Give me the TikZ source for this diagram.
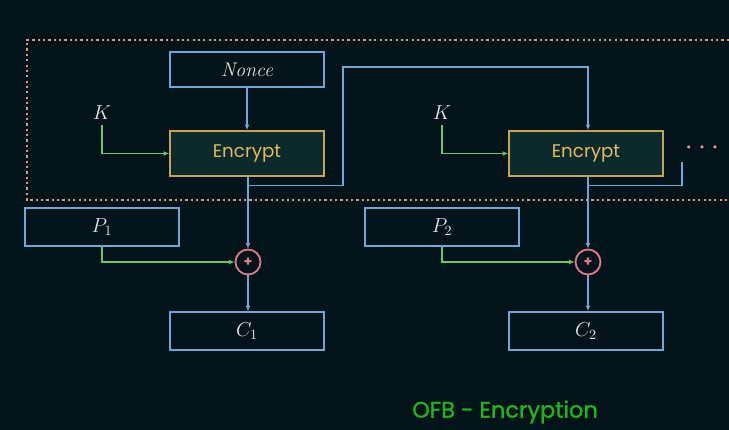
\documentclass[tikz,border=0pt]{standalone}
\usepackage{fontspec}
\newfontfamily\labelfont{Poppins}
\newfontfamily\titlefont[FakeBold=1.2]{Poppins}
\usetikzlibrary{arrows.meta,positioning,calc}
\definecolor{bgdark}{HTML}{03131A}
\definecolor{boxblue}{HTML}{6FA8D6}
\definecolor{encgold}{HTML}{C9A352}
\definecolor{enctext}{HTML}{E8B860}
\definecolor{encfill}{HTML}{0B2A2C}
\definecolor{keygreen}{HTML}{6CC46C}
\definecolor{xorpink}{HTML}{E07A8A}
\definecolor{framedot}{HTML}{D99A86}
\definecolor{moredot}{HTML}{E8A294}
\definecolor{titlegreen}{HTML}{1FB51F}
\definecolor{lighttext}{HTML}{E6E6E6}

\begin{document}
\begin{tikzpicture}[
  blk/.style={draw=boxblue, line width=1.1pt, minimum width=3.85cm, minimum height=0.95cm,
              inner sep=0pt, text=lighttext, font=\fontsize{14}{16}\selectfont\itshape},
  enc/.style={draw=encgold, line width=1.1pt, fill=encfill, minimum width=3.85cm, minimum height=1.125cm,
              inner sep=0pt, text=enctext, font=\fontsize{13}{15}\selectfont\labelfont},
  xr/.style={circle, draw=xorpink, line width=1.3pt, minimum size=0.625cm, inner sep=0pt,
             text=xorpink, font=\fontsize{10}{12}\selectfont\labelfont\bfseries},
  wire/.style={draw=boxblue, line width=0.85pt, -{Latex[length=4pt,width=3.5pt]}},
  kwire/.style={draw=keygreen, line width=0.85pt, -{Latex[length=4pt,width=3.5pt]}},
  lbl/.style={text=lighttext, font=\fontsize{14}{16}\selectfont}
]
\useasboundingbox[fill=bgdark] (0,0) rectangle (18.225,10.75);
% dotted frame round the key stream part
\draw[framedot, line width=1.7pt, dash pattern=on 1.6pt off 2.2pt]
  (18.225,9.75) -- (0.675,9.75) -- (0.675,5.75) -- (18.225,5.75);

% first block
\node[blk, minimum height=0.875cm] (nonce) at (6.175,9.0125) {Nonce};
\node[enc] (enc1) at (6.175,6.9125) {Encrypt};
\node[lbl] (k1) at (2.55,7.925) {$K$};
\node[blk] (p1) at (2.55,5.075) {$P_1$};
\node[xr] (x1) at (6.2,4.2) {+};
\node[blk] (c1) at (6.175,2.475) {$C_1$};

% second block
\node[enc] (enc2) at (14.65,6.9125) {Encrypt};
\node[lbl] (k2) at (11.05,7.925) {$K$};
\node[blk] (p2) at (11.05,5.075) {$P_2$};
\node[xr] (x2) at (14.7,4.2) {+};
\node[blk] (c2) at (14.65,2.475) {$C_2$};

\node[text=moredot, font=\Large\boldmath] (more) at (17.55,7.05) {$\cdot\kern1pt\cdot\kern1pt\cdot$};
\node[text=titlegreen, font=\fontsize{16}{19}\selectfont\titlefont] (title) at (12.625,0.45) {OFB - Encryption};

\coordinate (out2) at (17.05,6.7);

\draw[wire] (nonce.south -| enc1.north) -- (enc1.north);
\draw[kwire] (k1.south) |- (enc1.west);
\draw[kwire] (k2.south) |- (enc2.west);
\draw[wire] (enc1.south -| x1.north) -- (x1.north);
\draw[wire] (enc2.south -| x2.north) -- (x2.north);
\draw[wire] ($(enc1.south -| x1.north)+(0,-0.225)$) -| (8.575,9.075) -| (enc2.north -| x2.north);
\draw[draw=boxblue, line width=0.85pt] ($(enc2.south -| x2.north)+(0,-0.225)$) -| (out2);
\draw[kwire] (p1.south) |- (x1.west);
\draw[kwire] (p2.south) |- (x2.west);
\draw[wire] (x1.south) -- (x1.south |- c1.north);
\draw[wire] (x2.south) -- (x2.south |- c2.north);
\end{tikzpicture}
\end{document}
